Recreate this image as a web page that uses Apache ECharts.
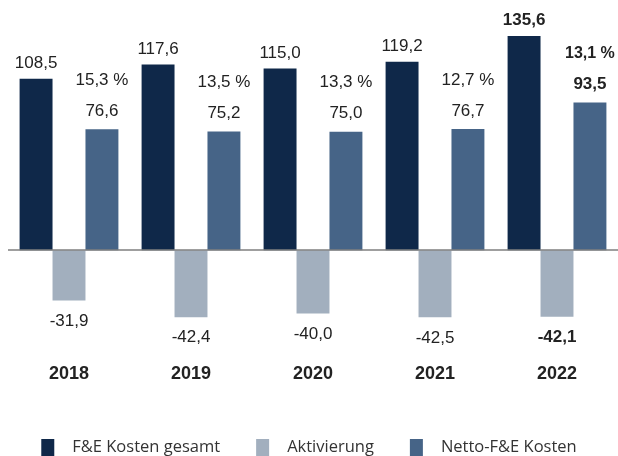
<!DOCTYPE html>
<html lang="de">
<head>
    <meta charset="utf-8">
    <script src="https://cdn.jsdelivr.net/npm/echarts@6/dist/echarts.min.js"></script>
    <style>
        html, body { margin:0; padding:0; background:#fff; }
        #main { width:618px; height:456px; }
    </style>
</head>
<body>
<div id="main"></div>
<script type="text/javascript">
    // Werte in Mio. EUR
    var years = ['2018', '2019', '2020', '2021', '2022'];
    var gesamt = [108.5, 117.6, 115.0, 119.2, 135.6];
    var aktivierung = [-31.9, -42.4, -40.0, -42.5, -42.1];
    var netto = [76.6, 75.2, 75.0, 76.7, 93.5];
    var quote = [15.3, 13.5, 13.3, 12.7, 13.1];   // Aktivierungsquote in %

    var lastIdx = years.length - 1;
    function fmt(v) { return v.toFixed(1).replace('.', ','); }
    function boldLast(arr) {
        return arr.map(function (v, i) {
            return i === lastIdx ? { value: v, label: { fontWeight: 'bold' } } : v;
        });
    }

    var myChart = echarts.init(document.getElementById('main'));
    var labelBase = { show: true, color: '#222', fontSize: 17, fontFamily: 'Liberation Sans, Arial' };

    myChart.setOption({
        animation: false,
        grid: { left: 8, right: 0, top: 29, bottom: 111 },
        legend: {
            bottom: -5,
            left: 'center',
            icon: 'rect',
            itemWidth: 13,
            itemHeight: 17,
            itemGap: 36,
            textStyle: { fontFamily: 'Open Sans', fontSize: 16.5, color: '#333', padding: [0, 0, 0, 13] },
            data: ['F&E Kosten gesamt', 'Aktivierung', 'Netto-F&E Kosten']
        },
        xAxis: {
            type: 'category',
            data: years,
            axisLine: { show: false },
            axisTick: { show: false },
            axisLabel: { margin: 20, fontSize: 18, fontWeight: 'bold', color: '#222',
                fontFamily: 'Liberation Sans Narrow, Arial Narrow, Liberation Sans' }
        },
        yAxis: {
            type: 'value',
            min: -60,
            max: 140,
            show: false
        },
        series: [{
            name: 'F&E Kosten gesamt',
            type: 'bar',
            barGap: 0,
            barCategoryGap: '19%',
            itemStyle: { color: '#0f2849' },
            label: Object.assign({}, labelBase, { position: 'top', distance: 7,
                formatter: function (p) { return fmt(p.value); } }),
            data: boldLast(gesamt),
            markLine: {
                silent: true,
                symbol: 'none',
                label: { show: false },
                lineStyle: { color: '#7f7f7f', type: 'solid', width: 1.5 },
                data: [{ yAxis: 0 }]
            }
        }, {
            name: 'Aktivierung',
            type: 'bar',
            itemStyle: { color: '#a2afbe' },
            label: Object.assign({}, labelBase, { position: 'bottom', distance: 12,
                formatter: function (p) { return fmt(p.value); } }),
            data: boldLast(aktivierung)
        }, {
            name: 'Netto-F&E Kosten',
            type: 'bar',
            itemStyle: { color: '#466487' },
            label: Object.assign({}, labelBase, { position: 'top', distance: 7,
                formatter: function (p) {
                    var b = p.dataIndex === lastIdx ? 'b' : '';
                    return '{p' + b + '|' + fmt(quote[p.dataIndex]) + ' %}\n{v' + b + '|' + fmt(p.value) + '}';
                },
                rich: {
                    p: { fontSize: 17, lineHeight: 40, color: '#222' },
                    v: { fontSize: 17, lineHeight: 22, color: '#222' },
                    pb: { fontSize: 16, lineHeight: 40, color: '#222', fontWeight: 'bold' },
                    vb: { fontSize: 17, lineHeight: 22, color: '#222', fontWeight: 'bold' }
                }
            }),
            data: netto
        }]
    });
</script>
</body>
</html>
